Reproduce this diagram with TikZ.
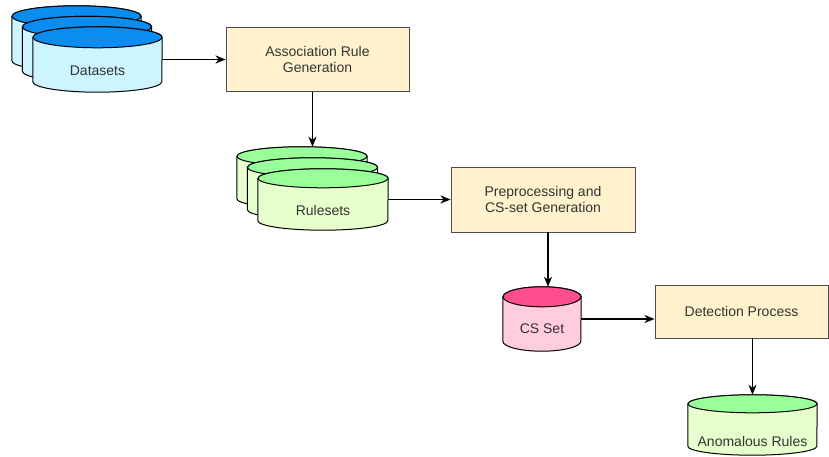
\documentclass[tikz,border=0pt]{standalone}
\usepackage{fontspec}
\setmainfont{Liberation Sans}
\usetikzlibrary{arrows.meta,positioning}
\definecolor{procfill}{HTML}{FFF2CC}
\definecolor{datatop}{HTML}{0A8CF0}
\definecolor{databody}{HTML}{CCF5FF}
\definecolor{ruletop}{HTML}{99FF99}
\definecolor{rulebody}{HTML}{E6FFCC}
\definecolor{cstop}{HTML}{FF4D8D}
\definecolor{csbody}{HTML}{FFCCE0}
\definecolor{txt}{HTML}{333333}
\pgfdeclarelayer{background}
\pgfsetlayers{background,main}

\tikzset{
  proc/.style={draw=black!70, fill=procfill, line width=0.9pt, align=center,
    text=txt, font=\fontsize{14}{16.5}\selectfont, inner sep=0pt},
  dbbox/.style={rectangle, inner sep=0pt, text=txt,
    font=\fontsize{14}{16.5}\selectfont, text depth=0pt, text height=32pt},
  dbline/.style={draw=black, line width=1pt},
  arr/.style={-{Stealth[length=10pt,width=8pt,inset=3pt]}, line width=1.5pt}
}
% cylinder behind a named node: node, half width, end radius, top colour, body colour
\newcommand\drawdb[5]{%
  \filldraw[dbline, fill=#5] ([yshift=-#3]#1.north west) -- ([yshift=#3]#1.south west)
    arc[start angle=180, end angle=360, x radius=#2, y radius=#3]
    -- ([yshift=-#3]#1.north east)
    arc[start angle=0, end angle=180, x radius=#2, y radius=#3] -- cycle;
  \filldraw[dbline, fill=#4] ([yshift=-#3]#1.north) ellipse [x radius=#2, y radius=#3];
}

\begin{document}
\begin{tikzpicture}
\useasboundingbox (0,0) rectangle (829pt,457pt);
% datasets
\node[dbbox, minimum width=129pt, minimum height=65pt] (data3) at (76.5pt,418.5pt) {};
\node[dbbox, minimum width=129pt, minimum height=65pt] (data2) at (87pt,408pt) {};
\node[dbbox, minimum width=129pt, minimum height=65pt] (data1) at (97.5pt,397.5pt) {Datasets};
\node[proc, minimum width=183pt, minimum height=64pt] (assoc) at (317.5pt,397.5pt)
  {Association Rule\\Generation};
% rulesets
\node[dbbox, minimum width=130pt, minimum height=61pt] (rule3) at (302pt,279.5pt) {};
\node[dbbox, minimum width=130pt, minimum height=61pt] (rule2) at (312.5pt,268.5pt) {};
\node[dbbox, minimum width=130pt, minimum height=61pt] (rule1) at (323pt,257.5pt) {Rulesets};
\node[proc, minimum width=184pt, minimum height=65pt] (prep) at (543pt,257.5pt)
  {Preprocessing and\\CS-set Generation};
% cs set
\node[dbbox, minimum width=78pt, minimum height=64pt, text height=29pt] (cs) at (542pt,138pt) {CS Set};
\node[proc, minimum width=173pt, minimum height=53pt] (detect) at (741.5pt,145.5pt)
  {Detection Process};
\node[dbbox, minimum width=129pt, minimum height=60pt, text height=44pt] (anom) at (752.5pt,32pt)
  {Anomalous Rules};

\begin{pgfonlayer}{background}
  \foreach \n in {data3,data2,data1}
    {\drawdb{\n}{64.5pt}{10.5pt}{datatop}{databody}}
  \foreach \n in {rule3,rule2,rule1}
    {\drawdb{\n}{65pt}{9.5pt}{ruletop}{rulebody}}
  \drawdb{cs}{39pt}{10pt}{cstop}{csbody}
  \drawdb{anom}{64.5pt}{9pt}{ruletop}{rulebody}
\end{pgfonlayer}

\path[arr]
  (data1) edge (assoc)
  (assoc.south -| rule2.center) edge (rule2.center |- rule3.north)
  (rule1) edge (prep)
  ([xshift=6pt]cs.north |- prep.south) edge ([xshift=6pt]cs.north)
  (cs.east) edge (cs.east -| detect.west)
  (anom.north |- detect.south) edge (anom.north);
\end{tikzpicture}
\end{document}
